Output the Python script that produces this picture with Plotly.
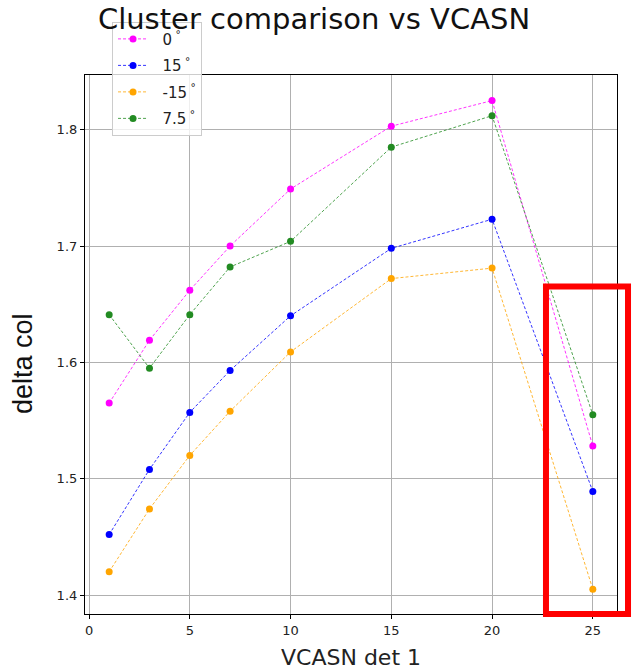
import plotly.graph_objects as go

# VCASN settings of detector 1
vcasn = [1, 3, 5, 7, 10, 15, 20, 25]

# mean cluster size (delta col) per incidence angle
delta_0 = [1.565, 1.619, 1.662, 1.700, 1.749, 1.803, 1.825, 1.528]
delta_15 = [1.452, 1.508, 1.557, 1.593, 1.640, 1.698, 1.723, 1.489]
delta_m15 = [1.420, 1.474, 1.520, 1.558, 1.609, 1.672, 1.681, 1.405]
delta_7p5 = [1.641, 1.595, 1.641, 1.682, 1.704, 1.785, 1.812, 1.555]

series = [
    ("0", delta_0, "#ff00ff"),
    ("15", delta_15, "#0000ff"),
    ("-15", delta_m15, "#ffa500"),
    ("7.5", delta_7p5, "#228b22"),
]

FONT = "DejaVu Sans"

fig = go.Figure()
for name, vals, color in series:
    fig.add_trace(go.Scatter(
        x=vcasn, y=vals, name="\u00a0\u00a0" + name + "<sup>\u00a0°</sup>",
        legendgroup=name, mode="lines+markers",
        line=dict(color=color, width=0.8, dash="3px,2px"),
        marker=dict(color=color, size=7),
    ))

axis_common = dict(
    showline=True, linecolor="black", linewidth=1.2, mirror=True,
    ticks="outside", ticklen=4, tickcolor="black", tickwidth=1,
    showgrid=True, gridcolor="#b0b0b0", gridwidth=1,
    zeroline=False, tickfont=dict(family=FONT, size=13, color="#222"),
)

fig.update_xaxes(range=[-0.2, 26.2], tickvals=[0, 5, 10, 15, 20, 25], **axis_common)
fig.update_yaxes(
    range=[1.3837, 1.847], tickvals=[1.4, 1.5, 1.6, 1.7, 1.8],
    ticktext=["1.4", "1.5", "1.6", "1.7", "1.8"], **axis_common,
)

# axis labels
fig.add_annotation(
    text="VCASN det 1", xref="paper", yref="paper", x=0.5, y=-0.0798,
    xanchor="center", yanchor="middle", showarrow=False,
    font=dict(family=FONT, size=22, color="#222"),
)
fig.add_annotation(
    text="delta col", xref="paper", yref="paper", x=-0.1165, y=0.4638,
    xanchor="center", yanchor="middle", textangle=-90, showarrow=False,
    font=dict(family="Liberation Sans", size=27, color="#111"),
)

# highlight box around the last VCASN point
fig.add_shape(
    type="rect", xref="paper", yref="paper",
    x0=0.8665, x1=1.0207, y0=0.0, y1=0.6076,
    line=dict(color="#ff0000", width=6), fillcolor="rgba(0,0,0,0)",
)

fig.update_layout(
    width=635, height=671,
    margin=dict(l=85, r=18, t=75, b=57),
    paper_bgcolor="white", plot_bgcolor="white",
    title=dict(text="Cluster comparison vs VCASN", x=0.4945, xanchor="center",
               y=0.9717, yanchor="middle",
               font=dict(family=FONT, size=29, color="#111")),
    legend=dict(
        x=0.0508, y=1.099, xanchor="left", yanchor="top",
        bgcolor="rgba(255,255,255,0.8)", bordercolor="#cccccc", borderwidth=1,
        font=dict(family=FONT, size=15, color="#222"), tracegroupgap=4,
    ),
    showlegend=True,
)

fig.write_html("out.html")
